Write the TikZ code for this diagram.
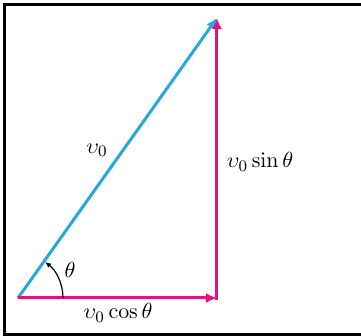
\documentclass[tikz,border=0pt]{standalone}
\usetikzlibrary{arrows.meta}
\definecolor{vcyan}{RGB}{38,168,222}
\definecolor{vmagenta}{RGB}{226,18,128}
\begin{document}
\begin{tikzpicture}[x=0.5pt,y=0.5pt,
  vec/.style={line width=1.5pt,-{Latex[length=5.5pt,width=5pt]}},
  lbl/.style={font=\fontsize{11}{13}\selectfont,inner sep=0pt}]
\useasboundingbox (0,0) rectangle (361,336);
% coordinates
\coordinate (xO) at ( 18, 38);
\coordinate (xA) at (217, 38);
\coordinate (xB) at (217,318);
\coordinate (xA0) at (217, 36);
\coordinate (xF1) at (361,331.5);
\coordinate (xF2) at (4.5,331.5);
\coordinate (xF3) at (4.5,1.5);
\coordinate (xF4) at (361,1.5);
% frame
\draw[line width=1.2pt,black] (xF1) -- (xF2) -- (xF3) -- (xF4);
% vectors
\draw[vec,vcyan]    (xO) -- (xB);
\draw[vec,vmagenta] (xO) -- (xA);
\draw[vec,vmagenta] (xA0) -- (xB);
% angle
\draw[semithick,black,-{Latex[length=3pt,width=2.6pt]}] ([xshift=45*0.5pt]xO) arc (0:53:45);
% labels
\node[lbl] (lv)   at ( 97,186) {$\upsilon_0$};
\node[lbl] (lsin) at (260,174) {$\upsilon_0\sin\theta$};
\node[lbl] (lcos) at (118, 23) {$\upsilon_0\cos\theta$};
\node[lbl] (lth)  at ( 70, 66) {$\theta$};
\end{tikzpicture}
\end{document}
